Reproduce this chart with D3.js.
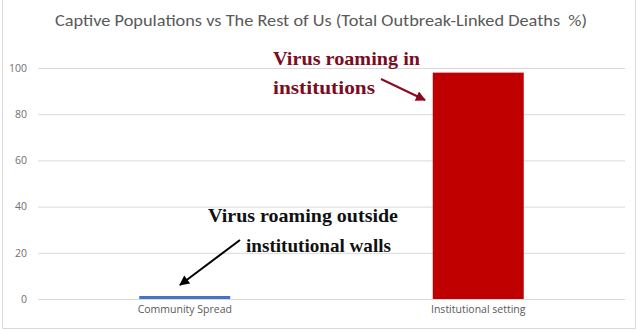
<!DOCTYPE html>
<html>
<head>
<meta charset="utf-8">
<script src="https://cdn.jsdelivr.net/npm/d3@7"></script>
<style>
  html, body { margin: 0; padding: 0; background: #ffffff; }
  svg { display: block; }
</style>
</head>
<body>
<script>
// Chart data
const categories = ["Community Spread", "Institutional setting"];
const deathShare = [1.3, 98];
const barColors = ["#4472C4", "#C00000"];
const yTicks = [0, 20, 40, 60, 80, 100];
const titleText = "Captive Populations vs The Rest of Us (Total Outbreak-Linked Deaths  %)";

const W = 640, H = 330;
const svg = d3.select("body").append("svg").attr("width", W).attr("height", H);

// Outer frame
svg.append("path")
  .attr("d", "M2.5,0 V328.5 H635.5 V0")
  .attr("fill", "none").attr("stroke", "#d9d9d9").attr("stroke-width", 1);

const x = d3.scaleBand().domain(categories).range([38, 625])
  .paddingInner(0.69).paddingOuter(0.345);
const y = d3.scaleLinear().domain([0, 100]).range([299, 68]);

// Title
svg.append("text")
  .attr("x", 321).attr("y", 26)
  .attr("text-anchor", "middle")
  .style("white-space", "pre")
  .attr("font-family", "Carlito, 'Open Sans', sans-serif")
  .attr("font-size", 17)
  .attr("fill", "#595959")
  .attr("textLength", 532).attr("lengthAdjust", "spacingAndGlyphs")
  .text(titleText);

// Gridlines and value axis labels
const yAxis = d3.axisLeft(y).tickValues(yTicks).tickSize(-(625 - 38)).tickPadding(11);
const gy = svg.append("g").attr("transform", "translate(38,0)").call(yAxis);
gy.select(".domain").remove();
gy.selectAll(".tick line").attr("stroke", "#d9d9d9").attr("stroke-width", 1);
gy.selectAll(".tick text")
  .attr("font-family", "'Open Sans', sans-serif")
  .attr("font-size", 10.5)
  .attr("fill", "#707070");

// Bars
svg.append("g").selectAll("rect")
  .data(categories)
  .join("rect")
  .attr("x", d => x(d))
  .attr("width", x.bandwidth())
  .attr("y", (d, i) => y(deathShare[i]))
  .attr("height", (d, i) => y(0) - y(deathShare[i]))
  .attr("fill", (d, i) => barColors[i]);

// Category axis labels
const xAxis = d3.axisBottom(x).tickSize(0).tickPadding(7);
const gx = svg.append("g").attr("transform", "translate(0,299)").call(xAxis);
gx.select(".domain").remove();
gx.selectAll(".tick text")
  .attr("font-family", "'Open Sans', sans-serif")
  .attr("font-size", 10.5)
  .attr("fill", "#595959");

// Arrowhead markers
const defs = svg.append("defs");
function marker(id, color) {
  defs.append("marker")
    .attr("id", id)
    .attr("viewBox", "0 0 10 10")
    .attr("refX", 9).attr("refY", 5)
    .attr("markerWidth", 6).attr("markerHeight", 5)
    .attr("markerUnits", "strokeWidth")
    .attr("orient", "auto")
    .append("path").attr("d", "M0,0 L10,5 L0,10 Z").attr("fill", color);
}
marker("arrRed", "#8B0A22");
marker("arrBlack", "#000000");

// Annotations
const serif = "'Liberation Serif', 'DejaVu Serif', serif";
const red = "#7B0C1E";
const inst = svg.append("g")
  .attr("font-family", serif).attr("font-size", 19).attr("font-weight", "bold")
  .attr("fill", red);
inst.append("text").attr("x", 273).attr("y", 65).attr("textLength", 147)
  .attr("lengthAdjust", "spacingAndGlyphs").text("Virus roaming in");
inst.append("text").attr("x", 273).attr("y", 94).attr("textLength", 102)
  .attr("lengthAdjust", "spacingAndGlyphs").text("institutions");
svg.append("line")
  .attr("x1", 381).attr("y1", 79).attr("x2", 425).attr("y2", 100)
  .attr("stroke", "#8B0A22").attr("stroke-width", 2)
  .attr("marker-end", "url(#arrRed)");

const comm = svg.append("g")
  .attr("font-family", serif).attr("font-size", 19).attr("font-weight", "bold")
  .attr("fill", "#111111");
comm.append("text").attr("x", 208).attr("y", 222).attr("textLength", 190)
  .attr("lengthAdjust", "spacingAndGlyphs").text("Virus roaming outside");
comm.append("text").attr("x", 246).attr("y", 252).attr("textLength", 145)
  .attr("lengthAdjust", "spacingAndGlyphs").text("institutional walls");
svg.append("line")
  .attr("x1", 240).attr("y1", 240).attr("x2", 180).attr("y2", 285)
  .attr("stroke", "#000000").attr("stroke-width", 2)
  .attr("marker-end", "url(#arrBlack)");
</script>
</body>
</html>
